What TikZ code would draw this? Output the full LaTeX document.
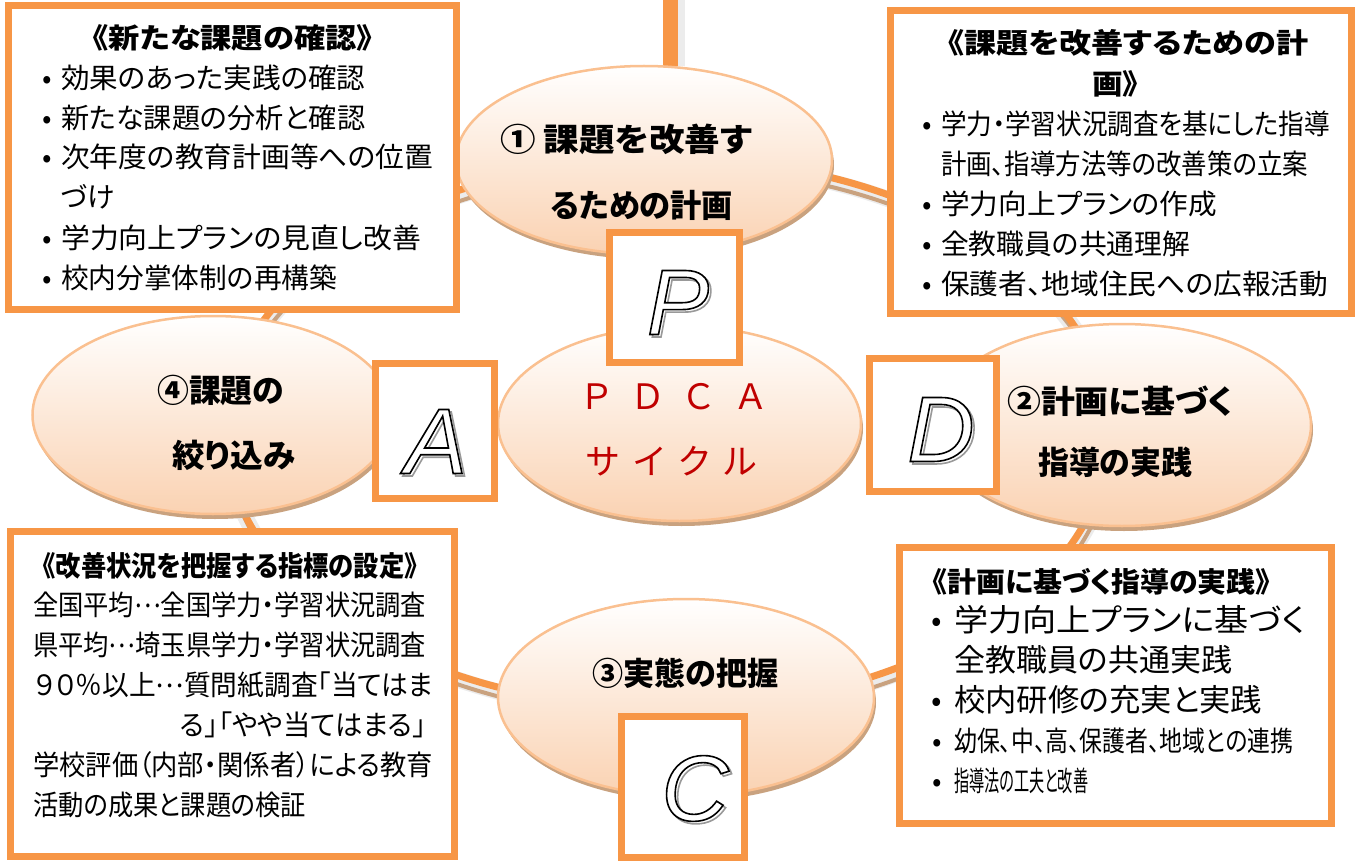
\documentclass[tikz,border=0pt]{standalone}
\usepackage{fontspec}
\usepackage{graphicx}
\setmainfont{Noto Sans CJK JP}[RawFeature=+palt]
\newfontfamily\lettfont{Liberation Sans}
\usetikzlibrary{shapes.geometric,shadows}
\definecolor{org}{HTML}{F79646}
\definecolor{lorg}{HTML}{FAC090}
\definecolor{peach}{HTML}{FAD2B2}
\definecolor{shad}{HTML}{C9A27F}
\definecolor{ringgray}{HTML}{ECECEC}
\definecolor{pdcared}{HTML}{C00000}
\newsavebox\fitbox
\newcommand\fitw[2]{\sbox\fitbox{#2}\pgfmathsetmacro\fitratio{#1/(\the\wd\fitbox)}\scalebox{\fitratio}[1]{\usebox\fitbox}}
\newcommand\bul{\makebox[0pt][c]{•}}
\newcommand\mdots{\raisebox{0.3em}{…}}
\newcommand\outl[1]{%
  \lettfont\itshape\fontsize{93}{93}\selectfont
  \makebox[0pt][l]{\hspace{2.5pt}\raisebox{-2.5pt}{\textcolor{black!40}{\special{pdf:literal direct 1 Tr 1.6 w}#1\special{pdf:literal direct 0 Tr}}}}%
  \textcolor{white}{\special{pdf:literal direct 2 Tr 1.6 w 0 G}#1\special{pdf:literal direct 0 Tr}}}
\begin{document}
\begin{tikzpicture}[x=1pt,y=-1pt,
  ell/.style={ellipse, draw=lorg, line width=2.5pt, top color=white, bottom color=peach, inner sep=0pt,
    general shadow={fill=shad, shadow xshift=2pt, shadow yshift=-5pt}},
  sq/.style={rectangle, draw=org, line width=7pt, fill=white, inner sep=0pt},
  tbox/.style={rectangle, draw=org, line width=7pt, fill=white, inner sep=0pt},
  t28/.style={anchor=base west, inner sep=0pt, font=\fontsize{28}{28}\selectfont},
  t31/.style={anchor=base west, inner sep=0pt, font=\fontsize{31}{31}\selectfont},
  ttl/.style={anchor=base west, inner sep=0pt, font=\fontsize{28}{28}\selectfont\bfseries},
  elt/.style={anchor=base west, inner sep=0pt, font=\fontsize{32}{32}\selectfont\bfseries},
  lett/.style={anchor=base, inner sep=0pt}
]
\useasboundingbox (0,0) rectangle (1357,861);
\path (679.5,423.5) coordinate (midc);
\coordinate (rc) at ([shift={(-12.5,9.5)}]midc);
% ring
\draw[ringgray, line width=16pt] ([shift={(2,5)}]rc) ellipse [x radius=442pt, y radius=275pt];
\draw[shad, line width=4pt] ([shift={(3,10)}]rc) ellipse [x radius=442pt, y radius=275pt];
\draw[org, line width=7pt] (rc) ellipse [x radius=442pt, y radius=275pt];
% top bar
\coordinate (barT) at (670.5,0);
\coordinate (barB) at (670.5,66);
\draw[ringgray, line width=8pt] ([xshift=10]barT) -- ([xshift=10]barB);
\draw[org, line width=15pt] (barT) -- (barB);
% ellipses
\node[ell, minimum width=376pt, minimum height=188pt] (top) at (644,160) {};
\node[ell, minimum width=363pt, minimum height=195pt] (mid) at (midc) {};
\node[ell, minimum width=361pt, minimum height=198pt] (left) at (213,415) {};
\node[ell, minimum width=378pt, minimum height=202pt] (right) at (1122,425) {};
\node[ell, minimum width=376pt, minimum height=197pt] (bot) at (686,697.5) {};
% ellipse texts
\node[elt] (top1) at (500,151.2) {\fitw{252}{① 課題を改善す}};
\node[elt] (top2) at (550,217.2) {\fitw{183}{るための計画}};
\node[elt] (right1) at (1007,413.2) {\fitw{226}{②計画に基づく}};
\node[elt] (right2) at (1038,474.2) {\fitw{154}{指導の実践}};
\node[elt] (bot1) at (592,685.2) {\fitw{186}{③実態の把握}};
\node[elt] (left1) at (157,402.2) {\fitw{127}{④課題の}};
\node[elt] (left2) at (172,467.2) {\fitw{123}{絞り込み}};
\node[anchor=base, inner sep=0pt, text=pdcared, font=\fontsize{35}{35}\selectfont] (pdca) at (673.5,409) {Ｐ\hspace{24pt}Ｄ\hspace{24pt}Ｃ\hspace{24pt}Ａ};
\node[anchor=base, inner sep=0pt, text=pdcared, font=\fontsize{35}{35}\selectfont] (cyc) at (671.5,474) {サ\hspace{14pt}イ\hspace{14pt}ク\hspace{14pt}ル};
% letter squares
\node[sq, minimum width=130pt, minimum height=130pt] (Pbox) at (674.5,297.5) {};
\node[sq, minimum width=119pt, minimum height=135pt] (Abox) at (435,431) {};
\node[sq, minimum width=127pt, minimum height=133pt] (Dbox) at (933,425) {};
\node[sq, minimum width=123pt, minimum height=141pt] (Cbox) at (683,787) {};
\node[lett] (Pl) at (678,334.5) {\outl{P}};
\node[lett] (Al) at (436,473.5) {\outl{A}};
\node[lett] (Dl) at (941,461.5) {\outl{D}};
\node[lett] (Cl) at (695,820.5) {\outl{C}};
% text boxes
\node[tbox, minimum width=448pt, minimum height=304pt] (boxTL) at (232.5,157.5) {};
\node[tbox, minimum width=461pt, minimum height=303pt] (boxTR) at (1121,162) {};
\node[tbox, minimum width=444pt, minimum height=325pt] (boxBL) at (232.5,694) {};
\node[tbox, minimum width=432pt, minimum height=276pt] (boxBR) at (1115.5,685.5) {};
% top-left texts
\node[ttl] (tlt) at (93,48.6) {\fitw{279}{《新たな課題の確認》}};
\node[t28] (tl1) at (47,88.6) {\bul\hspace{14pt}\fitw{304}{効果のあった実践の確認}};
\node[t28] (tl2) at (47,128.6) {\bul\hspace{14pt}\fitw{304}{新たな課題の分析と確認}};
\node[t28] (tl3) at (47,167.6) {\bul\hspace{14pt}\fitw{372}{次年度の教育計画等への位置}};
\node[t28] (tl4) at (61,207.6) {\fitw{54}{づけ}};
\node[t28] (tl5) at (47,248.6) {\bul\hspace{14pt}\fitw{360}{学力向上プランの見直し改善}};
\node[t28] (tl6) at (47,288.6) {\bul\hspace{14pt}\fitw{276}{校内分掌体制の再構築}};
% top-right texts
\node[ttl] (trt1) at (948,53.6) {\fitw{360}{《課題を改善するための計}};
\node[ttl] (trt2) at (1092,94.6) {\fitw{46}{画》}};
\node[t28] (tr1) at (927,134.6) {\bul\hspace{14pt}\fitw{389}{学力・学習状況調査を基にした指導}};
\node[t28] (tr2) at (941,174.6) {\fitw{367}{計画、指導方法等の改善策の立案}};
\node[t28] (tr3) at (927,214.6) {\bul\hspace{14pt}\fitw{276}{学力向上プランの作成}};
\node[t28] (tr4) at (927,254.6) {\bul\hspace{14pt}\fitw{249}{全教職員の共通理解}};
\node[t28] (tr5) at (927,294.6) {\bul\hspace{14pt}\fitw{387}{保護者、地域住民への広報活動}};
% bottom-right texts
\node[ttl] (brt) at (933,592.6) {\fitw{337}{《計画に基づく指導の実践》}};
\node[t31] (br1) at (937,631.8) {\bul\hspace{17pt}\fitw{351}{学力向上プランに基づく}};
\node[t31] (br2) at (954,671.8) {\fitw{278}{全教職員の共通実践}};
\node[t31] (br3) at (937,711.8) {\bul\hspace{17pt}\fitw{308}{校内研修の充実と実践}};
\node[t28] (br4) at (937,751.6) {\bul\hspace{17pt}\fitw{339}{幼保、中、高、保護者、地域との連携}};
\node[t28] (br5) at (937,791.6) {\bul\hspace{17pt}\fitw{134}{指導法の工夫と改善}};
% bottom-left texts
\node[ttl] (blt) at (43,576.6) {\fitw{374}{《改善状況を把握する指標の設定》}};
\node[t28] (bl1) at (33,615.6) {\fitw{393}{全国平均\mdots 全国学力・学習状況調査}};
\node[t28] (bl2) at (33,655.6) {\fitw{393}{県平均\mdots 埼玉県学力・学習状況調査}};
\node[t28] (bl3) at (35,695.6) {\fitw{398}{９０％以上\mdots 質問紙調査「当てはま}};
\node[t28] (bl4) at (180,735.6) {\fitw{246}{る」「やや当てはまる」}};
\node[t28] (bl5) at (33,775.6) {\fitw{400}{学校評価（内部・関係者）による教育}};
\node[t28] (bl6) at (33,815.6) {\fitw{273}{活動の成果と課題の検証}};
\end{tikzpicture}
\end{document}
